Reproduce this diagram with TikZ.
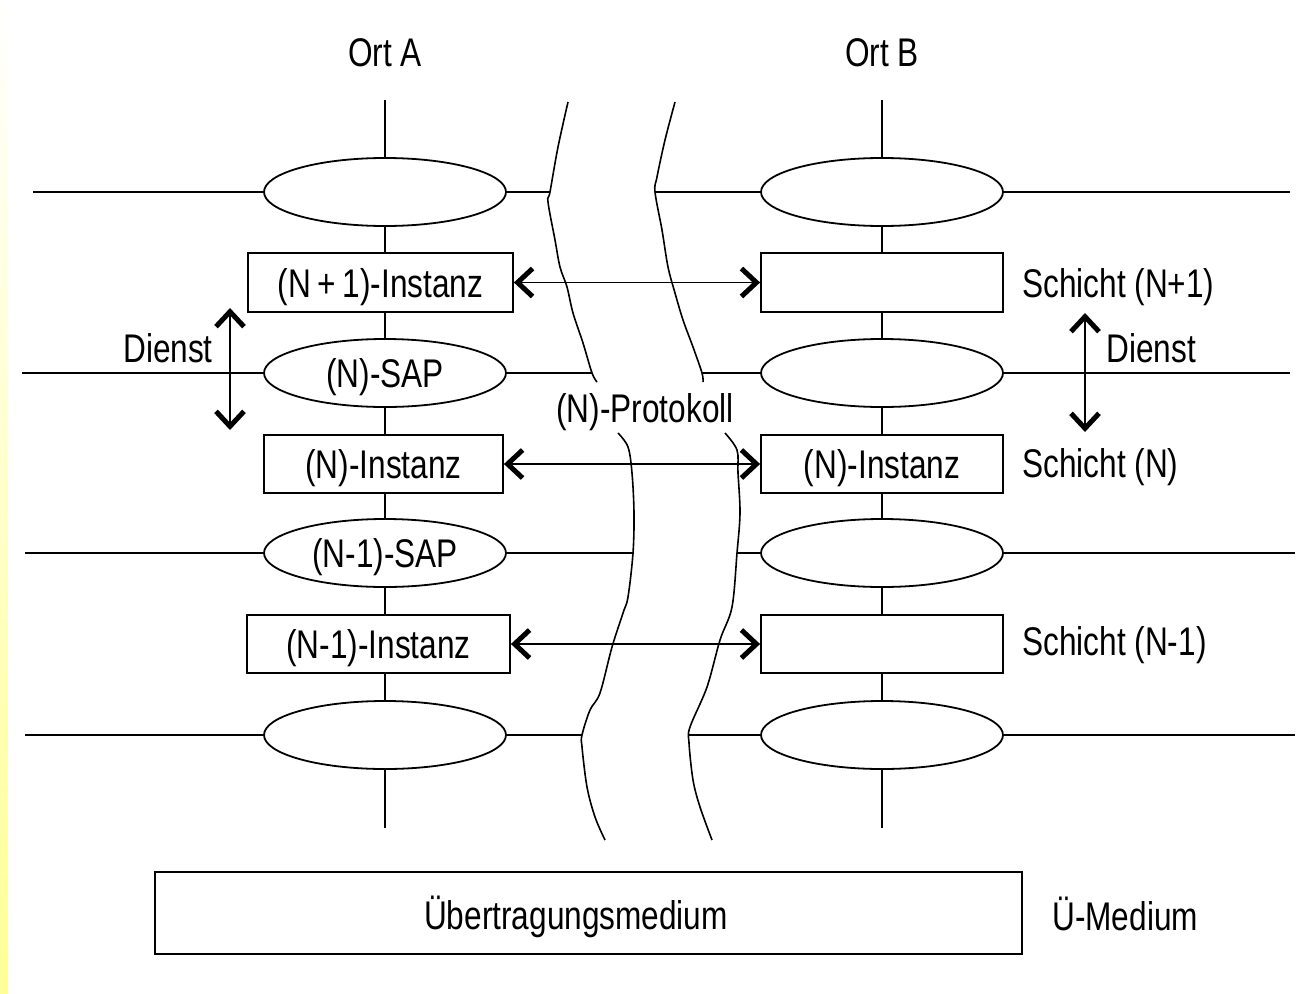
\documentclass[tikz,border=0pt]{standalone}
\usepackage{fontspec}
\setmainfont{Liberation Sans}[FakeStretch=0.79]
\usetikzlibrary{arrows.meta,shapes.geometric}
\tikzset{
  chev/.tip={Straight Barb[length=15pt,width=28pt,line width=5pt]},
}
\begin{document}
\begin{tikzpicture}[x=1pt,y=-1pt,
  every node/.style={font=\fontsize{40}{48}\selectfont, inner sep=0pt, text height=29pt, text depth=0pt},
  ln/.style={line width=1.8pt},
  wave/.style={line width=1.6pt, smooth, tension=0.55},
  sap/.style={ellipse, draw, line width=1.8pt, fill=white, minimum width=242pt, minimum height=68pt},
  inst/.style={rectangle, draw, line width=1.8pt, fill=white, minimum height=58pt},
  proto/.style={line width=1.8pt, {chev}-{chev}},
]
\useasboundingbox (0,0) rectangle (1303,993);
\shade[top color=white, bottom color={rgb,255:red,255;green,255;blue,150}] (0,0) rectangle (8,993);

% vertical lines
\coordinate (at) at (385,100); \coordinate (ab) at (385,828);
\coordinate (bt) at (882,100); \coordinate (bb) at (882,828);
\draw[ln] (at) -- (ab);
\draw[ln] (bt) -- (bb);

% titles
\node (ortA) at (385,52) {Ort A};
\node (ortB) at (882,52) {Ort B};

% SAP ellipses
\node[sap] (a1) at (385,192) {};
\node[sap] (a2) at (385,373) {(N)-SAP};
\node[sap] (a3) at (385,553) {(N-1)-SAP};
\node[sap] (a4) at (385,735) {};
\node[sap] (b1) at (882,192) {};
\node[sap] (b2) at (882,373) {};
\node[sap] (b3) at (882,553) {};
\node[sap] (b4) at (882,735) {};

% instances
\node[inst, minimum width=265pt, minimum height=59pt] (ia1) at (380.5,282.5) {(N\,+\,1)-Instanz};
\node[inst, minimum width=239pt] (ia2) at (383.5,464) {(N)-Instanz};
\node[inst, minimum width=263pt] (ia3) at (378.5,644) {(N-1)-Instanz};
\node[inst, minimum width=242pt, minimum height=59pt] (ib1) at (882,282.5) {};
\node[inst, minimum width=242pt] (ib2) at (882,464) {(N)-Instanz};
\node[inst, minimum width=242pt] (ib3) at (882,644) {};

% waves
\draw[wave] plot coordinates {(568,102) (558,147) (550,192) (548,202) (555,240) (560,267) (567,287) (573,313) (583,343) (592,373) (597,382)};
\draw[wave] plot coordinates {(618,433) (628,447) (632,473) (634,513) (633,553) (628,597) (623,613) (612,647) (600,693) (590,710) (582,735) (582,747) (587,787) (595,817) (605,840)};
\draw[wave] plot coordinates {(675,102) (665,140) (657,177) (655,192) (662,230) (668,267) (675,293) (683,320) (693,347) (702,373) (703,382)};
\draw[wave] plot coordinates {(725,433) (737,450) (738,473) (740,513) (737,553) (732,607) (720,640) (707,687) (690,727) (689,743) (693,780) (700,807) (712,840)};

% wave junction coordinates
\coordinate (l1) at (550,192); \coordinate (r1) at (655,192);
\coordinate (l2) at (592,373); \coordinate (r2) at (702,373);
\coordinate (l3) at (633,553); \coordinate (r3) at (737,553);
\coordinate (l4) at (582,735); \coordinate (r4) at (689,735);
\coordinate (e1) at (33,192);  \coordinate (f1) at (1290,192);
\coordinate (e2) at (22,373);  \coordinate (f2) at (1290,373);
\coordinate (e3) at (25,553);  \coordinate (f3) at (1295,553);
\coordinate (e4) at (25,735);  \coordinate (f4) at (1295,735);

\foreach \i in {1,2,3,4}{
  \draw[ln] (e\i) -- (a\i.west);
  \draw[ln] (a\i.east) -- (l\i);
  \draw[ln] (r\i) -- (b\i.west);
  \draw[ln] (b\i.east) -- (f\i);
}

% protocol arrows
\draw[proto] (ia1.east) -- (ib1.west);
\draw[proto] (ia2.east) -- (ib2.west);
\draw[proto] (ia3.east) -- (ib3.west);

\node[fill=white, inner xsep=2pt, inner ysep=4pt] (prot) at (645,408) {(N)-Protokoll};

% Dienst
\coordinate (d1t) at (230,308); \coordinate (d1b) at (230,430);
\coordinate (d2t) at (1085,313); \coordinate (d2b) at (1085,432);
\draw[proto] (d1t) -- (d1b);
\draw[proto] (d2t) -- (d2b);
\node (dl) at (168,348) {Dienst};
\node (dr) at (1151,348) {Dienst};

% layer labels
\node[anchor=west] (s1) at (1022,283) {Schicht (N+1)};
\node[anchor=west] (s2) at (1022,463) {Schicht (N)};
\node[anchor=west] (s3) at (1022,641) {Schicht (N-1)};

% medium
\node[draw, line width=1.8pt, minimum width=867pt, minimum height=82pt] (med) at (588.5,913) {};
\node (medt) at (576,915) {Übertragungsmedium};
\node[anchor=west] (um) at (1052,916) {Ü-Medium};
\end{tikzpicture}
\end{document}
